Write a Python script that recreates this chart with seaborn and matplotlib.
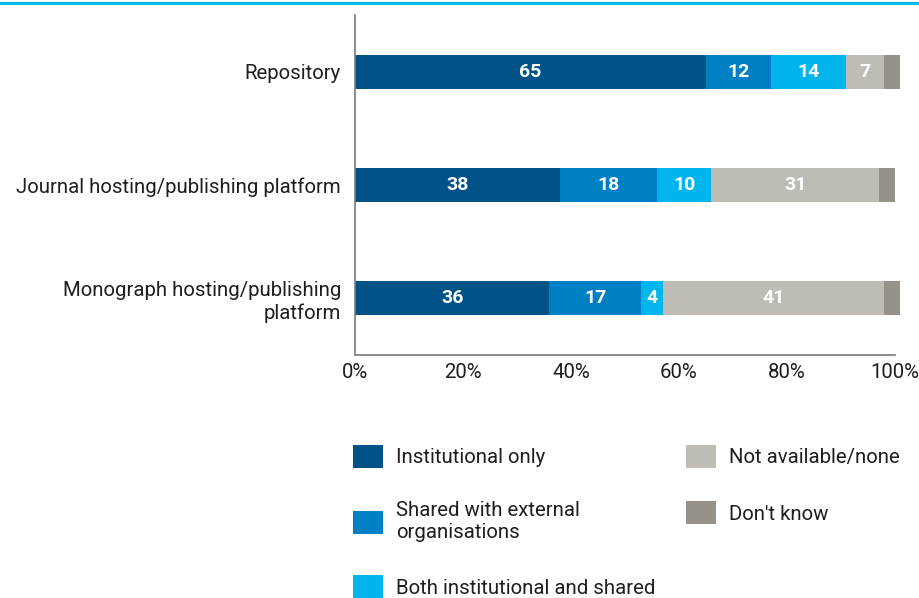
import numpy as np
import pandas as pd
import seaborn as sns
import matplotlib
matplotlib.use("Agg")
import matplotlib.pyplot as plt
from matplotlib.patches import Patch
from matplotlib.lines import Line2D

categories = ["Repository", "Journal hosting/publishing platform",
              "Monograph hosting/publishing\nplatform"]
series_names = ["Institutional only", "Shared with external\norganisations",
                "Both institutional and shared", "Not available/none", "Don't know"]
institutional = [65, 38, 36]
shared = [12, 18, 17]
both = [14, 10, 4]
not_available = [7, 31, 41]
dont_know = [3, 3, 3]
colors = ["#005287", "#0080C4", "#00B5EC", "#BFBCB5", "#979289"]
xticks = [0, 20, 40, 60, 80, 100]
xticklabels = ["0%", "20%", "40%", "60%", "80%", "100%"]

sns.set_theme(style="white")
plt.rcParams['font.family'] = ['Roboto', 'DejaVu Sans']
FS = 14.7
text_color = "#1e1e1e"

values = [institutional, shared, both, not_available, dont_know]
df = pd.DataFrame({name: vals for name, vals in zip(series_names, values)}, index=categories)
cum = df.cumsum(axis=1)

fig = plt.figure(figsize=(9.19, 5.98), dpi=100)
ax = fig.add_axes([355 / 919, 1 - 355 / 598, 540 / 919, 340 / 598])

# draw cumulative bars from the longest to the shortest so they stack
for i in range(len(series_names) - 1, -1, -1):
    d = pd.DataFrame({"category": categories, "value": cum.iloc[:, i].values})
    sns.barplot(data=d, y="category", x="value", orient="h", color=colors[i],
                width=0.3, saturation=1, ax=ax, edgecolor="none", linewidth=0)
for p in ax.patches:
    p.set_clip_on(False)

# value labels (all but "Don't know")
for i in range(len(series_names) - 1):
    for j, cat in enumerate(categories):
        v = df.iloc[j, i]
        center = cum.iloc[j, i] - v / 2
        ax.text(center, j, f"{v}", ha="center", va="center", color="white",
                fontsize=14, fontweight="bold")

ax.set_xlim(0, 100)
ax.set_ylim(2.5, -0.5)
ax.set_xticks(xticks)
ax.set_xticklabels(xticklabels)
ax.set_xlabel("")
ax.set_ylabel("")
for lab in ax.get_yticklabels():
    lab.set_linespacing(1.2)
ax.tick_params(axis="both", length=0, labelsize=FS, colors=text_color)
ax.tick_params(axis="y", pad=10)
ax.tick_params(axis="x", pad=6)
for s in ["top", "right"]:
    ax.spines[s].set_visible(False)
for s in ["left", "bottom"]:
    ax.spines[s].set_color("#7a7a7a")
    ax.spines[s].set_linewidth(1.2)

# top cyan rule
fig.add_artist(Line2D([0, 1], [1 - 2.5 / 598, 1 - 2.5 / 598], color="#00BFEF",
                      linewidth=2.2, transform=fig.transFigure))

handles = [Patch(facecolor=c, edgecolor="none") for c in colors]
leg = fig.legend(handles, series_names, ncol=2, loc="upper left",
                 bbox_to_anchor=(353 / 919, 1 - 445 / 598), frameon=False,
                 fontsize=FS, handlelength=1.47, handleheight=1.37,
                 handletextpad=0.64, columnspacing=1.5, labelspacing=1.62,
                 borderpad=0, borderaxespad=0, labelcolor=text_color)
for t in leg.get_texts():
    t.set_linespacing(1.2)

fig.savefig("out.png", dpi=100)
